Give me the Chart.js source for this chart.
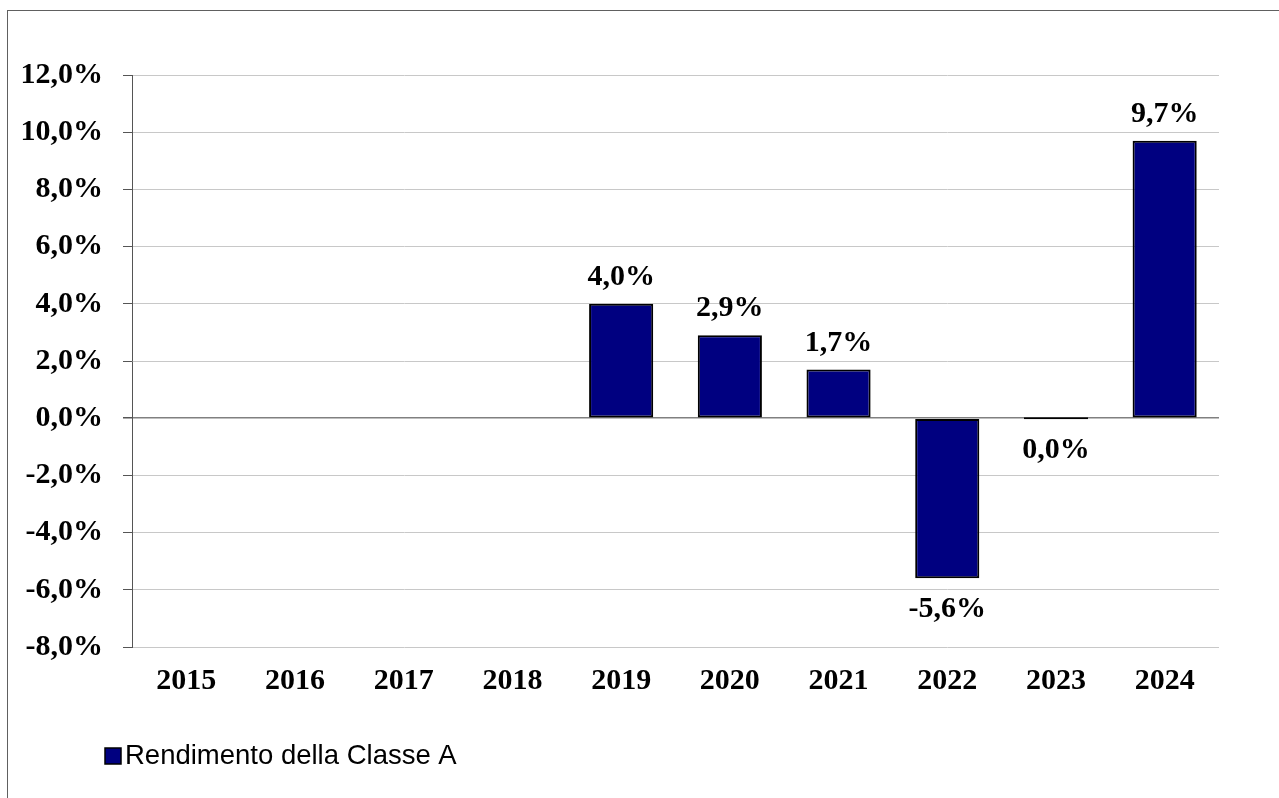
<!DOCTYPE html>
<html>
<head>
<meta charset="utf-8">
<script src="https://cdn.jsdelivr.net/npm/chart.js@4.4.1/dist/chart.umd.min.js"></script>
<style>
  body { margin: 0; background: #fff; overflow: hidden; }
  #wrap { position: relative; width: 1279px; height: 798px; }
  #frame { position: absolute; left: 7px; top: 10px; right: -5px; bottom: -5px;
           border-left: 1px solid #606060; border-top: 1px solid #606060; pointer-events: none; }
  canvas { position: absolute; left: 0; top: 0; }
</style>
</head>
<body>
<div id="wrap">
  <canvas id="chart" width="1279" height="798"></canvas>
  <div id="frame"></div>
</div>
<script>
// Dati
const anni = ['2015', '2016', '2017', '2018', '2019', '2020', '2021', '2022', '2023', '2024'];
const rendimenti = [null, null, null, null, 4.0, 2.9, 1.7, -5.6, 0.0, 9.7];
const etichettaSerie = 'Rendimento della Classe A';
const yMin = -8, yMax = 12, yStep = 2;

const serif = "'Liberation Serif', 'Times New Roman', serif";
const sans = "'Liberation Sans', Arial, sans-serif";

function fmt(v) {
    return v.toFixed(1).replace('.', ',') + '%';
}

// Etichette sopra/sotto le barre
const valueLabels = {
    id: 'valueLabels',
    afterDatasetsDraw(chart) {
        const ctx = chart.ctx;
        const meta = chart.getDatasetMeta(0);
        const zeroY = chart.scales.y.getPixelForValue(0);
        ctx.save();
        ctx.font = 'bold 30px ' + serif;
        ctx.fillStyle = '#000';
        ctx.textAlign = 'center';
        meta.data.forEach((bar, i) => {
            const v = rendimenti[i];
            if (v === null) return;
            if (v > 0) {
                ctx.textBaseline = 'alphabetic';
                ctx.fillText(fmt(v), bar.x, bar.y - 19);
            } else {
                ctx.textBaseline = 'top';
                ctx.fillText(fmt(v), bar.x, Math.max(bar.y, zeroY) + 16);
            }
        });
        ctx.restore();
    }
};

// Legenda in basso a sinistra
const customLegend = {
    id: 'customLegend',
    afterDraw(chart) {
        const ctx = chart.ctx;
        const ds = chart.data.datasets[0];
        ctx.save();
        ctx.fillStyle = ds.backgroundColor;
        ctx.fillRect(105, 748, 16, 16);
        ctx.strokeStyle = '#000';
        ctx.lineWidth = 1.5;
        ctx.strokeRect(105, 748, 16, 16);
        ctx.fillStyle = '#000';
        ctx.font = '27.5px ' + sans;
        ctx.textAlign = 'left';
        ctx.textBaseline = 'middle';
        ctx.fillText(ds.label, 125, 756);
        ctx.restore();
    }
};

new Chart(document.getElementById('chart'), {
    type: 'bar',
    data: {
        labels: anni,
        datasets: [{
            label: etichettaSerie,
            data: rendimenti,
            backgroundColor: '#000080',
            borderColor: '#000000',
            borderWidth: 2,
            borderSkipped: false,
            minBarLength: 2,
            categoryPercentage: 1,
            barPercentage: 0.59
        }]
    },
    options: {
        responsive: false,
        animation: false,
        layout: { padding: { left: 0, right: 60, top: 75, bottom: 0 } },
        plugins: {
            legend: { display: false },
            tooltip: { enabled: false }
        },
        scales: {
            x: {
                grid: { display: false, drawTicks: false },
                border: { display: false },
                ticks: {
                    color: '#000',
                    font: { family: serif, size: 30, weight: 'bold' },
                    padding: 16
                },
                afterFit(scale) { scale.height = 151; }
            },
            y: {
                min: yMin,
                max: yMax,
                ticks: {
                    stepSize: yStep,
                    color: '#000',
                    font: { family: serif, size: 30, weight: 'bold' },
                    padding: 20,
                    callback: v => fmt(v)
                },
                grid: {
                    color: ctx => ctx.tick && ctx.tick.value === 0 ? '#808080' : '#c8c8c8',
                    lineWidth: ctx => ctx.tick && ctx.tick.value === 0 ? 1.5 : 1,
                    tickColor: '#555',
                    tickLength: 9
                },
                border: { color: '#555', width: 1 },
                afterFit(scale) { scale.width = 132; }
            }
        }
    },
    plugins: [valueLabels, customLegend]
});
</script>
</body>
</html>
